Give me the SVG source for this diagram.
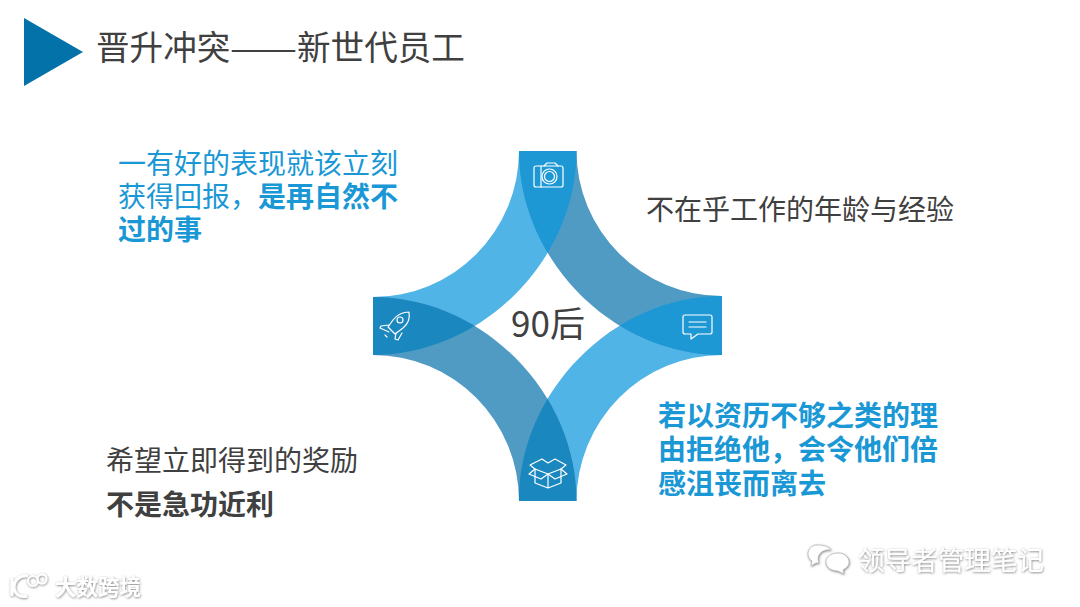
<svg xmlns="http://www.w3.org/2000/svg" width="1080" height="607" viewBox="0 0 1080 607">
<style>
text{font-family:"Noto Sans CJK SC","Noto Sans",sans-serif}
.d{fill:#404040}.b{fill:#1a97d5}.s{font-size:28px}.h{font-weight:700}
.ic{fill:none;stroke:#fff;stroke-width:1.2;stroke-linejoin:round;stroke-linecap:round}
.wm{fill:#fff;filter:url(#sh)}
</style>
<defs>
<filter id="sh" x="-10%" y="-30%" width="120%" height="160%"><feDropShadow dx="0.5" dy="0.8" stdDeviation="0.9" flood-color="#555" flood-opacity="0.75"/></filter>
<path id="tl" d="M519 151A146 146 0 0 1 373 297V355C482 355 576.500 260 576.500 151Z"/>
<path id="tr" d="M576.500 151A145.500 145 0 0 0 722 296V355C613 355 519 260 519 151Z"/>
<path id="br" d="M576.500 501A145.500 146 0 0 1 722 355V296C613 296 519 392 519 501Z"/>
<path id="bl" d="M519 501A146 146 0 0 0 373 355V297C482 297 576.500 392 576.500 501Z"/>
<clipPath id="ctl"><use href="#tl"/></clipPath>
<clipPath id="cbr"><use href="#br"/></clipPath>
</defs>
<rect width="1080" height="607" fill="#fff"/>
<g id="header">
<polygon points="24,18 83,52 24,86" fill="#0272a8"/>
<text x="96" y="60" font-size="33.600" class="d">晋升冲突</text>
<text x="230" y="60" font-size="33.600" class="d" textLength="67" lengthAdjust="spacingAndGlyphs">——</text>
<text x="297" y="60" font-size="33.600" class="d">新世代员工</text>
</g>
<g id="connectors">
<use href="#tl" fill="#50b4e6"/>
<use href="#br" fill="#50b4e6"/>
<use href="#tr" fill="#4f9bc4"/>
<use href="#bl" fill="#4f9bc4"/>
<g clip-path="url(#ctl)"><use href="#tr" fill="#1e98d5"/><use href="#bl" fill="#1b87bf"/></g>
<g clip-path="url(#cbr)"><use href="#tr" fill="#1e98d5"/><use href="#bl" fill="#1b87bf"/></g>
</g>
<g id="node-center"><text x="548" y="337" font-size="35" text-anchor="middle" class="d">90后</text></g>
<g id="node-camera" class="ic">
<rect x="534" y="166" width="29" height="21" rx="2"/>
<path d="M541 166V187M544 166l3-3h8l3 3"/>
<circle cx="549.500" cy="176.500" r="7.500"/><circle cx="549.500" cy="176.500" r="5"/>
</g>
<g id="node-rocket" class="ic">
<path d="M409 312c-6 0-12 3-16 8l-5 7 7 7 8-6c5-4 7-10 6-16z"/>
<circle cx="400" cy="320" r="3"/>
<path d="M389 325l-8 1-1 2 9 4M396 333l-1 6 3 1 4-7M385 335l2 2"/>
</g>
<g id="node-chat" class="ic">
<path d="M685 315H710a2 2 0 0 1 2 2V332a2 2 0 0 1-2 2H698L691 339V334H685a2 2 0 0 1-2-2V317a2 2 0 0 1 2-2z"/>
<path d="M689 322H706M689 327H706"/>
</g>
<g id="node-box" class="ic">
<path d="M535 469l13 5 13-5M535 469v14l13 5 13-5v-14M548 474v14"/>
<path d="M535 469l-5-4 12-6 6 4 7-4 11 6-5 4M535 469l-6 5 12 5 7-5 7 5 12-5-6-5"/>
</g>
<g id="node-tl">
<text x="118" y="174" class="s b">一有好的表现就该立刻</text>
<text x="118" y="207" class="s b">获得回报，<tspan class="h">是再自然不</tspan></text>
<text x="118" y="240" class="s b h">过的事</text>
</g>
<g id="node-tr"><text x="646" y="220" class="s d">不在乎工作的年龄与经验</text></g>
<g id="node-br">
<text x="658" y="426" class="s b h">若以资历不够之类的理</text>
<text x="658" y="460" class="s b h">由拒绝他，会令他们倍</text>
<text x="658" y="494" class="s b h">感沮丧而离去</text>
</g>
<g id="node-bl">
<text x="106" y="471" class="s d">希望立即得到的奖励</text>
<text x="106" y="515" class="s d h">不是急功近利</text>
</g>
<g id="watermarks">
<g class="wm">
<path d="M817 545c-5 0-9 4-9 9 0 3 2 6 4 7l-1 5 5-3h3c0 0-1-2-1-4 0-6 6-10 13-9-1-3-7-5-14-5z" stroke="#aaa" stroke-width=".6"/>
<path d="M838 553c-7 0-12 4-12 9s5 9 12 9l6 3-1-4c3-2 6-4 6-8 0-5-5-9-11-9z" stroke="#aaa" stroke-width=".6"/>
<text x="858" y="570" font-size="26.600">领导者管理笔记</text>
</g>
<g class="wm">
<path d="M12 578v18M28 576c-8-1-14 4-14 11s6 11 13 9" fill="none" stroke="#fff" stroke-width="3"/>
<circle cx="33" cy="581" r="5" fill="none" stroke="#fff" stroke-width="2"/>
<circle cx="42" cy="579" r="4.500" fill="none" stroke="#fff" stroke-width="2"/>
<text x="55" y="595" font-size="21.500" font-weight="700">大数跨境</text>
</g>
</g>
</svg>
